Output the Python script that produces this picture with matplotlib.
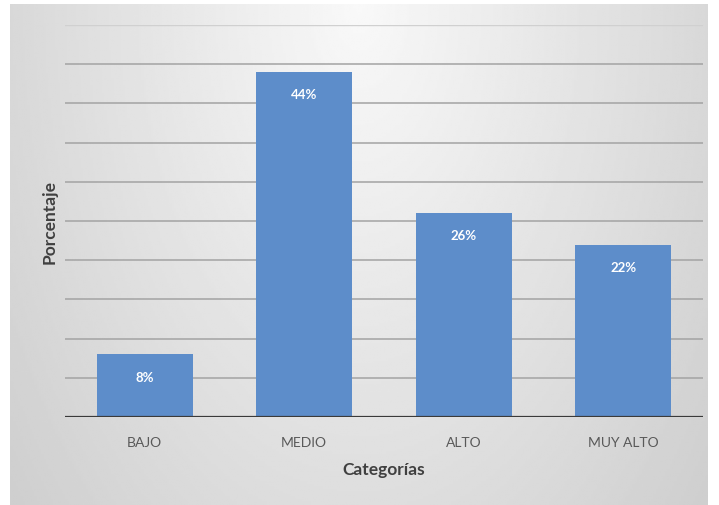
import matplotlib.pyplot as plt
import numpy as np

categories = ["BAJO", "MEDIO", "ALTO", "MUY ALTO"]
percentages = [8, 44, 26, 22]
grid_ticks = [0, 5, 10, 15, 20, 25, 30, 35, 40, 45, 50]

plt.rcParams["font.family"] = ["Lato", "DejaVu Sans"]

fig = plt.figure(figsize=(7.19, 5.06), dpi=100)

# gradient chart-area background (lighter at top centre, darker at edges)
bg = fig.add_axes([10 / 719, 0, 698 / 719, 501 / 506], zorder=0)
yy, xx = np.mgrid[0:1:200j, -1:1:300j]
dist = np.sqrt((xx * 0.9) ** 2 + (yy * 0.75) ** 2)
shade = 0.975 - 0.17 * np.clip(dist, 0, 1.2) / 1.2
bg.imshow(shade, cmap="gray", vmin=0, vmax=1, aspect="auto",
          extent=(0, 1, 0, 1), origin="upper", interpolation="bilinear")
bg.set_axis_off()

ax = fig.add_axes([65 / 719, 88 / 506, 638 / 719, 392 / 506], zorder=1)
ax.patch.set_alpha(0)

x = np.arange(len(categories))
bars = ax.bar(x, percentages, width=0.6, color="#5d8dca", zorder=3)

for g in grid_ticks[1:-1]:
    ax.axhline(g, color="#a3a3a3", lw=1.1, zorder=1)
ax.axhline(grid_ticks[-1], color="#d0d0d0", lw=1.0, zorder=1)
ax.axhline(0, color="#3a3a3a", lw=1.6, zorder=4)

for rect, val in zip(bars, percentages):
    ax.annotate(f"{val}%", (rect.get_x() + rect.get_width() / 2, val),
                xytext=(0, -16), textcoords="offset points",
                ha="center", va="center", color="white",
                fontsize=9.5, fontweight="bold", zorder=5)

ax.set_xlim(-0.5, 3.5)
ax.set_ylim(0, 50)
ax.set_xticks(x)
ax.set_xticklabels(categories, color="#595959", fontsize=10)
ax.tick_params(axis="x", length=0, pad=14)
ax.set_yticks([])
for side in ax.spines.values():
    side.set_visible(False)

ax.set_xlabel("Categorías", fontsize=12.5, fontweight="bold",
              color="#404040", labelpad=9)
ax.set_ylabel("Porcentaje", fontsize=12.5, fontweight="bold",
              color="#404040", labelpad=5)

fig.savefig("out.png", dpi=100)
